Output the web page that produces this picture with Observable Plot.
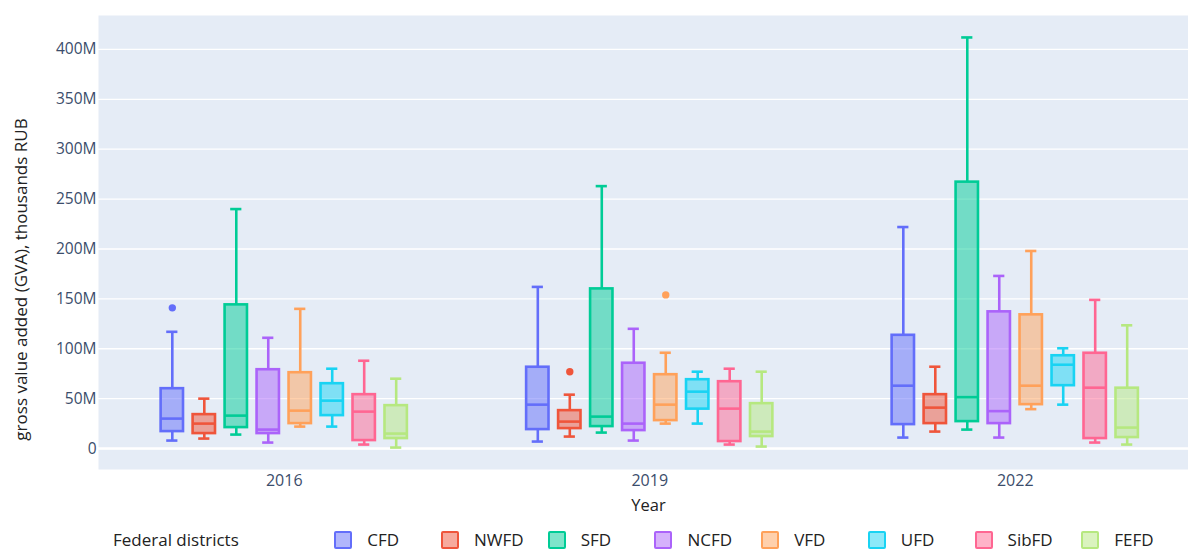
<!DOCTYPE html>
<html>
<head>
<meta charset="utf-8">
<script src="https://cdn.jsdelivr.net/npm/d3@7"></script>
<script src="https://cdn.jsdelivr.net/npm/@observablehq/plot@0.6"></script>
<style>
  body { margin: 0; background: #fff; font-family: "Open Sans", sans-serif; }
  #chart { width: 1188px; height: 527px; }
  #legend { width: 1188px; height: 26px; display: flex; align-items: center; box-sizing: border-box; padding-left: 113px; font-family: "Open Sans", sans-serif; font-size: 17px; line-height: 20px; color: #222; }
  #legend .title { width: 226px; }
  #legend .item { width: 109px; display: flex; align-items: center; }
  #legend .sw { width: 14px; height: 14px; border: 2px solid; border-radius: 2px; margin-right: 15px; }
</style>
</head>
<body>
<div id="chart"></div>
<div id="legend"></div>
<script>
const years = ["2016", "2019", "2022"];
const districts = ["CFD", "NWFD", "SFD", "NCFD", "VFD", "UFD", "SibFD", "FEFD"];
const colors = ["#636EFA", "#EF553B", "#00CC96", "#AB63FA", "#FFA15A", "#19D3F3", "#FF6692", "#B6E880"];

// values in millions (of thousands RUB); one row per year, columns follow `districts`
const whiskerLow = [
  [8, 10, 14, 6, 22, 22, 4, 1],
  [7, 12, 16, 8, 25, 25, 4, 2],
  [11, 17, 19, 11, 39.5, 44, 6, 4]
];
const q1 = [
  [17, 15, 21, 15, 25, 33, 8, 10],
  [19, 20, 22, 18, 28, 39.5, 7, 12],
  [24, 25, 27, 25, 44, 63, 10, 11]
];
const median = [
  [30, 25, 33, 19, 38, 48, 37, 15],
  [44, 27, 32, 25, 44, 57, 40, 17],
  [63, 41, 51.5, 37.5, 63, 84, 61, 21]
];
const q3 = [
  [60, 34, 144, 79, 76, 65, 54, 43],
  [81.5, 38, 160, 85.5, 74, 69, 67, 45],
  [113.5, 54, 267, 137, 134, 93, 95.5, 60.5]
];
const whiskerHigh = [
  [117, 50, 240, 111, 140, 80, 88, 70],
  [162, 54, 263, 120, 96, 77, 80, 77],
  [222, 82, 412, 173, 198, 100.5, 149, 123.5]
];
const outlierYears = ["2016", "2019", "2019"];
const outlierDistricts = ["CFD", "NWFD", "VFD"];
const outlierValues = [141, 77, 154];

const yTicks = [0, 50, 100, 150, 200, 250, 300, 350, 400];
const yTitle = "gross value added (GVA), thousands RUB";
const xTitle = "Year";
const legendTitle = "Federal districts";

// Plotly-like grouped box geometry (category units)
const groupWidth = 0.7;
const slot = groupWidth / districts.length;
const boxW = slot * 0.7;
const capW = boxW * 0.5;
const centerOf = (yi, di) => yi - groupWidth / 2 + slot * (di + 0.5);

const rows = [];
years.forEach((year, yi) => {
  districts.forEach((district, di) => {
    const xc = centerOf(yi, di);
    rows.push({
      year, district, xc,
      x1: xc - boxW / 2, x2: xc + boxW / 2,
      c1: xc - capW / 2, c2: xc + capW / 2,
      lo: whiskerLow[yi][di], q1: q1[yi][di], med: median[yi][di],
      q3: q3[yi][di], hi: whiskerHigh[yi][di]
    });
  });
});
const outliers = outlierValues.map((v, i) => ({
  district: outlierDistricts[i],
  xc: centerOf(years.indexOf(outlierYears[i]), districts.indexOf(outlierDistricts[i])),
  v
}));

const sw = 2.6;
const chart = Plot.plot({
  width: 1188,
  height: 527,
  marginTop: 15,
  marginBottom: 58,
  marginLeft: 98,
  marginRight: 0,
  style: { fontFamily: '"Open Sans", sans-serif', fontSize: "15.5px", color: "#2a3f5f", background: "#fff" },
  x: { type: "linear", domain: [-0.5, 2.5], range: [101, 1197.5], axis: null },
  y: { domain: [-21, 434], axis: null },
  color: { domain: districts, range: colors },
  marks: [
    Plot.frame({ fill: "#E5ECF6", stroke: "none" }),
    Plot.gridY(yTicks, { stroke: "white", strokeOpacity: 1, strokeWidth: 1.3 }),
    Plot.ruleY([0], { stroke: "white", strokeWidth: 2.6 }),
    Plot.axisY(yTicks, { tickSize: 0, tickPadding: 2, tickFormat: d => d === 0 ? "0" : d + "M", label: null, fill: "#3b4d6b" }),
    Plot.axisX([0, 1, 2], { tickSize: 0, tickPadding: 5, tickFormat: i => years[i], label: null, fill: "#3b4d6b", fontSize: 16 }),
    Plot.text([yTitle], { text: d => d, frameAnchor: "left", dx: -77, dy: 37, rotate: -90, textAnchor: "middle", fontSize: 17, fill: "#222" }),
    Plot.text([xTitle], { text: d => d, frameAnchor: "bottom", dx: 5, dy: 41, textAnchor: "middle", fontSize: 16.5, fill: "#222" }),
    // whiskers
    Plot.ruleX(rows, { x: "xc", y1: "q3", y2: "hi", stroke: "district", strokeWidth: sw }),
    Plot.ruleX(rows, { x: "xc", y1: "lo", y2: "q1", stroke: "district", strokeWidth: sw }),
    Plot.ruleY(rows, { y: "hi", x1: "c1", x2: "c2", stroke: "district", strokeWidth: sw }),
    Plot.ruleY(rows, { y: "lo", x1: "c1", x2: "c2", stroke: "district", strokeWidth: sw }),
    // boxes
    Plot.rect(rows, { x1: "x1", x2: "x2", y1: "q1", y2: "q3", fill: "district", fillOpacity: 0.5, stroke: "district", strokeWidth: sw }),
    Plot.ruleY(rows, { y: "med", x1: "x1", x2: "x2", stroke: "district", strokeWidth: sw }),
    // outliers
    Plot.dot(outliers, { x: "xc", y: "v", fill: "district", r: 3.7, stroke: "none" })
  ]
});
document.getElementById("chart").appendChild(chart);

// legend
const legend = document.getElementById("legend");
const t = document.createElement("span");
t.className = "title";
t.textContent = legendTitle;
legend.appendChild(t);
districts.forEach((d, i) => {
  const item = document.createElement("div");
  item.className = "item";
  const s = document.createElement("span");
  s.className = "sw";
  s.style.borderColor = colors[i];
  s.style.background = d3.color(colors[i]).copy({ opacity: 0.5 }).formatRgb();
  const l = document.createElement("span");
  l.textContent = d;
  item.appendChild(s);
  item.appendChild(l);
  legend.appendChild(item);
});
</script>
</body>
</html>
